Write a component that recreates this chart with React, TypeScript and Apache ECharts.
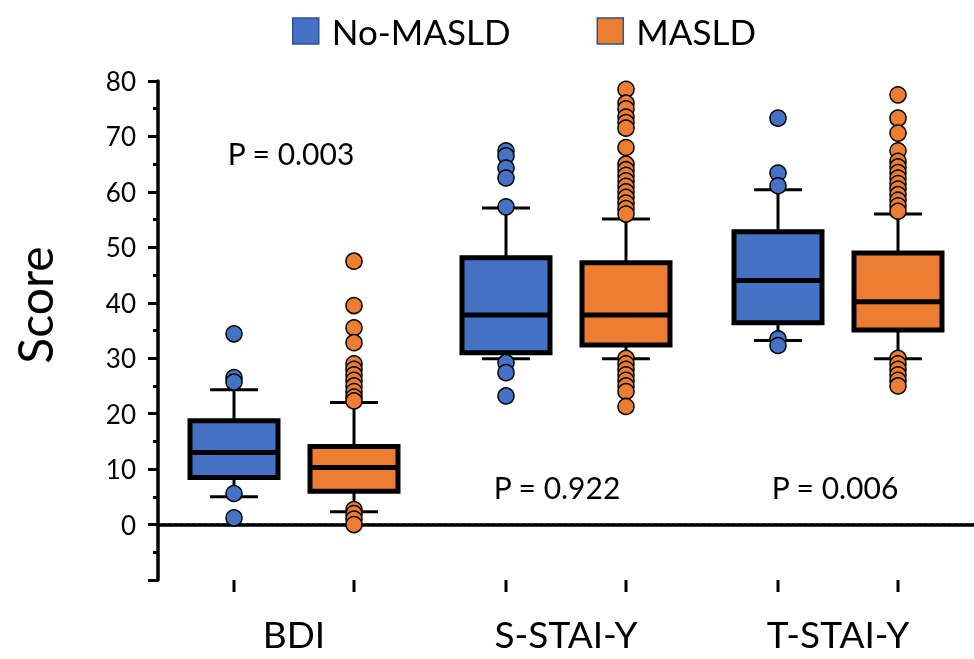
import React, { useEffect, useRef } from "react";
import * as echarts from "echarts";

const categories = ["BDI", "S-STAI-Y", "T-STAI-Y"];
const seriesNames = ["No-MASLD", "MASLD"];
const colors = ["#4472C4", "#ED7D31"];

// [categoryIndex, lowerWhisker, Q1, median, Q3, upperWhisker]
const noMasldBoxes = [
  [0, 5.0, 8.5, 13.0, 18.7, 24.3],
  [1, 29.9, 31.0, 37.8, 48.1, 57.1],
  [2, 33.2, 36.4, 44.0, 52.8, 60.4],
];
const masldBoxes = [
  [0, 2.3, 6.0, 10.3, 14.1, 22.0],
  [1, 29.9, 32.4, 37.8, 47.2, 55.1],
  [2, 29.9, 35.1, 40.2, 49.0, 56.0],
];

// outliers: [categoryIndex, value]
const noMasldOutliers = [
  [0, 34.4], [0, 26.5], [0, 25.7], [0, 5.6], [0, 1.2],
  [1, 67.4], [1, 66.5], [1, 64.3], [1, 62.5], [1, 57.3], [1, 29.2], [1, 27.4], [1, 23.2],
  [2, 73.3], [2, 63.4], [2, 61.1], [2, 33.5], [2, 32.3],
];
const masldOutliers = [
  [0, 47.5], [0, 39.5], [0, 35.5], [0, 32.8], [0, 29], [0, 28], [0, 27], [0, 26], [0, 25], [0, 24], [0, 23], [0, 22.3],
  [0, 2.7], [0, 2], [0, 1], [0, 0],
  [1, 78.5], [1, 76], [1, 75], [1, 73.5], [1, 72.5], [1, 71.5], [1, 68],
  [1, 65], [1, 64], [1, 63], [1, 62], [1, 61], [1, 60], [1, 59], [1, 58], [1, 57], [1, 56],
  [1, 30], [1, 29], [1, 28], [1, 27], [1, 26], [1, 25], [1, 24], [1, 21.3],
  [2, 77.5], [2, 73.3], [2, 70.6], [2, 67.4],
  [2, 65.5], [2, 64.5], [2, 63.5], [2, 62.5], [2, 61.5], [2, 60.5], [2, 59.5], [2, 58.5], [2, 57.5], [2, 56.5],
  [2, 30], [2, 29], [2, 28], [2, 27], [2, 26], [2, 25],
];

const referenceLine = [0];
const pLabels = ["P = 0.003", "P = 0.922", "P = 0.006"];

const FONT = "Lato";
const OFFSETS = [-60, 60];
const BOX_W = 88;
const CAP_HALF = 24;

function makeRenderItem(offset: number, color: string) {
  return (params: any, api: any) => {
    const c = api.value(0);
    const pLow = api.coord([c, api.value(1)]);
    const pQ1 = api.coord([c, api.value(2)]);
    const pMed = api.coord([c, api.value(3)]);
    const pQ3 = api.coord([c, api.value(4)]);
    const pHigh = api.coord([c, api.value(5)]);
    const pAxis = api.coord([c, -10]);
    const x = pLow[0] + offset;
    const lineStyle = { stroke: "#000", lineWidth: 3 };
    return {
      type: "group",
      children: [
        { type: "line", shape: { x1: x, y1: pAxis[1], x2: x, y2: pAxis[1] + 12 }, style: { stroke: "#000", lineWidth: 3 } },
        { type: "line", shape: { x1: x, y1: pLow[1], x2: x, y2: pQ1[1] }, style: lineStyle },
        { type: "line", shape: { x1: x, y1: pQ3[1], x2: x, y2: pHigh[1] }, style: lineStyle },
        { type: "line", shape: { x1: x - CAP_HALF, y1: pLow[1], x2: x + CAP_HALF, y2: pLow[1] }, style: lineStyle },
        { type: "line", shape: { x1: x - CAP_HALF, y1: pHigh[1], x2: x + CAP_HALF, y2: pHigh[1] }, style: lineStyle },
        {
          type: "rect",
          shape: { x: x - BOX_W / 2, y: pQ3[1], width: BOX_W, height: pQ1[1] - pQ3[1] },
          style: { fill: color, stroke: "#000", lineWidth: 5 },
        },
        { type: "line", shape: { x1: x - BOX_W / 2, y1: pMed[1], x2: x + BOX_W / 2, y2: pMed[1] }, style: { stroke: "#000", lineWidth: 5 } },
      ],
    };
  };
}

export default function App() {
  const ref = useRef<HTMLDivElement>(null);
  useEffect(() => {
    if (!ref.current) return;
    const chart = echarts.init(ref.current, null, { renderer: "svg" });
    const boxSets = [noMasldBoxes, masldBoxes];
    const outSets = [noMasldOutliers, masldOutliers];
    const series: any[] = [
      {
        name: "zero",
        type: "custom",
        silent: true,
        z: 1,
        data: referenceLine.map((v) => [0, v]),
        encode: { x: 0, y: 1 },
        renderItem: (params: any, api: any) => {
          const cs = params.coordSys;
          const p = api.coord([0, api.value(1)]);
          const y = p[1];
          const x0 = cs.x + 4;
          const x1 = cs.x + cs.width;
          const step = 6;
          const dots: any[] = [];
          for (let x = x0; x < x1; x += step) {
            dots.push({
              type: "rect",
              shape: { x, y: y - 1.25, width: 3, height: 2.5 },
              style: { fill: "#000" },
            });
          }
          return { type: "group", children: dots };
        },
      },
    ];
    seriesNames.forEach((name, i) => {
      series.push({
        name,
        type: "custom",
        renderItem: makeRenderItem(OFFSETS[i], colors[i]),
        itemStyle: { color: colors[i] },
        encode: { x: 0, y: [1, 2, 3, 4, 5] },
        data: boxSets[i],
        z: 2,
      });
      series.push({
        name,
        type: "scatter",
        data: outSets[i],
        symbol: "circle",
        symbolSize: 16,
        symbolOffset: [OFFSETS[i], 0],
        itemStyle: { color: colors[i], borderColor: "#000", borderWidth: 1.5, opacity: 1 },
        z: 3,
      });
    });
    chart.setOption({
      animation: false,
      textStyle: { fontFamily: FONT },
      legend: {
        top: 6,
        left: 287,
        itemWidth: 26,
        itemHeight: 26,
        itemGap: 86,
        icon: "rect",
        textStyle: { fontSize: 35, color: "#000", fontFamily: FONT, lineHeight: 40, padding: [0, 0, 0, 8] },
        data: seriesNames.map((n, i) => ({
          name: n,
          itemStyle: { color: colors[i], borderColor: "#2F528F", borderWidth: 1.5 },
        })),
      },
      grid: { left: 158, right: 0, top: 81, bottom: 79, containLabel: false },
      xAxis: {
        type: "category",
        data: categories,
        boundaryGap: true,
        axisLine: { lineStyle: { color: "#000", width: 3.5 } },
        axisTick: { show: false },
        axisLabel: { color: "#000", fontSize: 37, margin: 35, fontFamily: FONT },
      },
      yAxis: {
        type: "value",
        min: -10,
        max: 80,
        interval: 10,
        axisLine: { show: true, lineStyle: { color: "#000", width: 3.5 } },
        axisTick: { show: true, inside: false, length: 10, lineStyle: { color: "#000", width: 3 } },
        minorTick: { show: true, splitNumber: 2, length: 5, lineStyle: { color: "#000", width: 3 } },
        splitLine: { show: false },
        axisLabel: {
          color: "#000",
          fontSize: 26,
          margin: 22,
          fontFamily: FONT,
          formatter: (v: number) => (v < 0 ? "" : String(v)),
        },
      },
      graphic: [
        {
          type: "text",
          x: 34,
          y: 305,
          rotation: Math.PI / 2,
          style: { text: "Score", fontSize: 48, fontFamily: FONT, fill: "#000", align: "center", verticalAlign: "middle" },
        },
        { type: "text", x: 291, y: 153, style: { text: pLabels[0], fontSize: 30, fontFamily: FONT, fill: "#000", align: "center", verticalAlign: "middle" } },
        { type: "text", x: 557, y: 487, style: { text: pLabels[1], fontSize: 30, fontFamily: FONT, fill: "#000", align: "center", verticalAlign: "middle" } },
        { type: "text", x: 835, y: 487, style: { text: pLabels[2], fontSize: 30, fontFamily: FONT, fill: "#000", align: "center", verticalAlign: "middle" } },
      ],
      series,
    });
    return () => chart.dispose();
  }, []);
  return <div ref={ref} style={{ position: "fixed", left: 0, top: 0, width: 974, height: 659 }} />;
}
